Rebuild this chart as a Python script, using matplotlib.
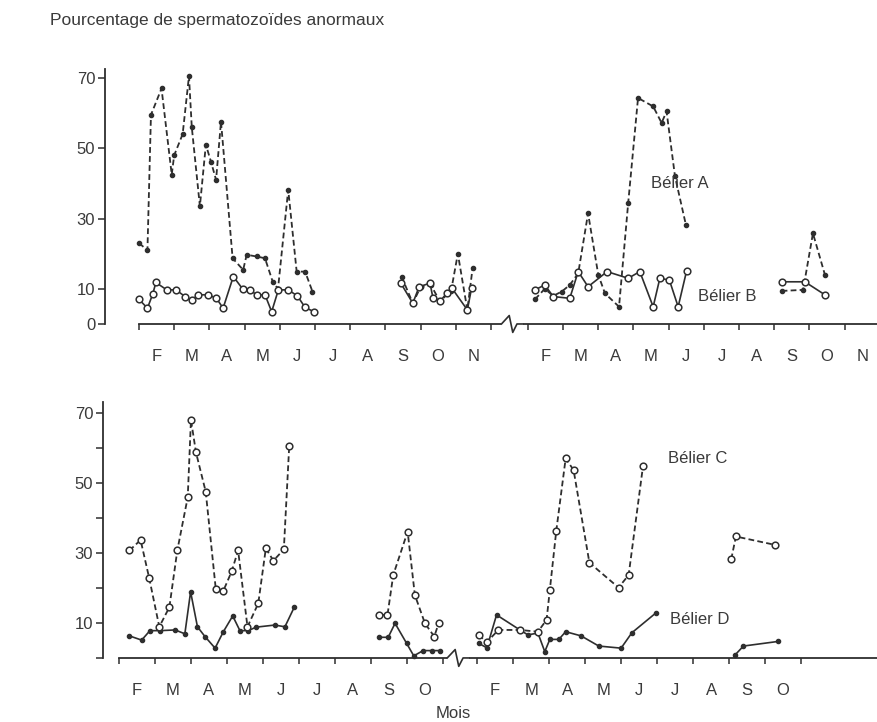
import matplotlib.pyplot as plt
import numpy as np

plt.rcParams['font.family'] = ['Liberation Sans', 'DejaVu Sans']

# mois en valeur décimale : 2.0 = début février, 3.0 = début mars, ...
month_labels_top = ['F', 'M', 'A', 'M', 'J', 'J', 'A', 'S', 'O', 'N']
month_labels_bot = ['F', 'M', 'A', 'M', 'J', 'J', 'A', 'S', 'O']
y_ticks_top = [0, 10, 30, 50, 70]
y_ticks_bot = [10, 30, 50, 70]

# ---- haut : bélier A (tirets) et bélier B (trait plein) ----
a1_m = [2.0, 2.24, 2.34, 2.64, 2.93, 3.0, 3.24, 3.42, 3.5, 3.73, 3.9, 4.05, 4.19,
        4.33, 4.66, 4.96, 5.06, 5.34, 5.58, 5.8, 5.95, 6.24, 6.48, 6.72, 6.93]
a1_v = [23, 21, 59.5, 67, 42.5, 48, 54, 70.5, 56, 33.5, 51, 46, 41,
        57.6, 18.7, 15.4, 19.7, 19.2, 18.7, 12, 10, 38.2, 14.9, 14.9, 9.2]
a1b_m = [9.46, 9.78, 10.0, 10.3, 10.55, 10.87, 11.06, 11.33, 11.48]
a1b_v = [13.5, 5.9, 10.5, 11, 6.4, 9.5, 20, 4, 16]
a2_m = [2.20, 2.48, 2.72, 2.96, 3.19, 3.43, 3.71, 4.0, 4.19, 4.59, 4.85, 5.13,
        5.56, 5.80, 5.94, 6.18, 6.49]
a2_v = [7, 10, 8, 9.2, 11.1, 14.4, 31.5, 14, 8.7, 4.9, 34.4, 64.3,
        61.9, 57.2, 60.5, 42, 28.2]
a2b_m = [9.21, 9.82, 10.1, 10.44]
a2b_v = [9.4, 9.7, 25.8, 14]

b1_m = [2.0, 2.24, 2.39, 2.48, 2.79, 3.05, 3.31, 3.5, 3.68, 3.97, 4.2, 4.39,
        4.68, 4.95, 5.15, 5.34, 5.58, 5.77, 5.96, 6.24, 6.5, 6.72, 6.97]
b1_v = [7, 4.5, 8.5, 11.8, 9.7, 9.7, 7.8, 6.8, 8.3, 8.3, 7.3, 4.5,
        13.5, 9.9, 9.7, 8.3, 8.3, 3.5, 9.7, 9.7, 8, 4.7, 3.5]
b1b_m = [9.44, 9.78, 9.96, 10.27, 10.35, 10.55, 10.74, 10.89, 11.33, 11.45]
b1b_v = [11.6, 5.9, 10.6, 11.6, 7.5, 6.4, 8.7, 10.2, 4, 10.2]
b2_m = [2.20, 2.48, 2.72, 3.19, 3.43, 3.71, 4.25, 4.85, 5.18, 5.56, 5.75, 6.02,
        6.27, 6.51]
b2_v = [9.7, 11.1, 7.8, 7.3, 14.9, 10.6, 14.9, 13, 14.9, 4.9, 13, 12.5, 4.9, 15.1]
b2b_m = [9.21, 9.87, 10.44]
b2b_v = [12, 12, 8.3]

# ---- bas : bélier C (tirets) et bélier D (trait plein) ----
c1_m = [2.29, 2.6, 2.84, 3.12, 3.4, 3.62, 3.91, 4.0, 4.14, 4.41, 4.69, 4.9,
        5.13, 5.31, 5.57, 5.87, 6.08, 6.29, 6.58, 6.73]
c1_v = [30.7, 33.7, 22.8, 8.9, 14.5, 30.7, 45.9, 68, 58.7, 47.5, 19.6, 19.2,
        24.7, 30.7, 8.9, 15.6, 31.3, 27.8, 31, 60.6]
c1b_m = [9.23, 9.46, 9.62, 10.02, 10.22, 10.5, 10.76, 10.88]
c1b_v = [12.3, 12.3, 23.7, 36.1, 18, 9.9, 6.1, 9.9]
c2_m = [2.04, 2.27, 2.59, 3.19, 3.69, 3.93, 4.02, 4.20, 4.46, 4.68, 5.12, 5.93,
        6.21, 6.61]
c2_v = [6.6, 4.5, 8, 8, 7.5, 10.9, 19.4, 36.4, 57, 53.7, 27.2, 20.1, 23.7, 54.9]
c2b_m = [9.06, 9.19, 10.28]
c2b_v = [28.2, 34.7, 32.3]

d1_m = [2.29, 2.63, 2.86, 3.14, 3.56, 3.83, 3.99, 4.18, 4.39, 4.67, 4.9, 5.16,
        5.36, 5.59, 5.81, 6.33, 6.61, 6.87]
d1_v = [6.3, 5.1, 7.8, 7.8, 8, 6.9, 18.9, 8.9, 6.1, 2.8, 7.5, 12,
        7.8, 7.8, 8.8, 9.4, 8.9, 14.5]
d1b_m = [9.23, 9.48, 9.67, 9.99, 10.19, 10.45, 10.69, 10.92]
d1b_v = [5.9, 5.9, 9.9, 4.2, 0.6, 2.1, 2.1, 2.1]
d2_m = [2.04, 2.27, 2.54, 3.19, 3.41, 3.69, 3.88, 4.02, 4.27, 4.46, 4.89, 5.38,
        6.0, 6.30, 6.96]
d2_v = [4.2, 2.9, 12.3, 8, 6.6, 7.1, 1.8, 5.3, 5.3, 7.5, 6.3, 3.4, 2.8, 7.2, 12.8]
d2b_m = [9.17, 9.40, 10.35]
d2b_v = [0.9, 3.4, 4.7]

ink = '#2e2e2e'
txt = '#3a3a3a'
dash = (0, (3.2, 1.8))

fig = plt.figure(figsize=(8.77, 7.22), dpi=100)
ax1 = fig.add_axes([105/877, 1-331/722, 772/877, 265/722])
ax2 = fig.add_axes([103/877, 1-666/722, 774/877, 266/722])

off1 = 11.05   # décalage de la 2e année (haut)
off2 = 9.95    # décalage de la 2e année (bas)


def dotted_series(ax, m, v, off):
    ax.plot(np.asarray(m) + off, v, color=ink, lw=1.3, ls=dash, marker='o',
            ms=3.0, mfc=ink, mec=ink, zorder=3, clip_on=False)


def solid_dots(ax, m, v, off):
    ax.plot(np.asarray(m) + off, v, color=ink, lw=1.2, marker='o',
            ms=3.0, mfc=ink, mec=ink, zorder=3, clip_on=False)


def solid_circles(ax, m, v, off):
    ax.plot(np.asarray(m) + off, v, color=ink, lw=1.2, marker='o',
            ms=4.8, mfc='white', mec=ink, mew=1.1, zorder=4, clip_on=False)


def dashed_circles(ax, m, v, off):
    ax.plot(np.asarray(m) + off, v, color=ink, lw=1.3, ls=dash, marker='o',
            ms=4.8, mfc='white', mec=ink, mew=1.1, zorder=4, clip_on=False)


# haut
for m, v, o in [(a1_m, a1_v, 0), (a1b_m, a1b_v, 0), (a2_m, a2_v, off1), (a2b_m, a2b_v, off1)]:
    dotted_series(ax1, m, v, o)
for m, v, o in [(b1_m, b1_v, 0), (b1b_m, b1b_v, 0), (b2_m, b2_v, off1), (b2b_m, b2b_v, off1)]:
    solid_circles(ax1, m, v, o)

# bas
for m, v, o in [(d1_m, d1_v, 0), (d1b_m, d1b_v, 0), (d2_m, d2_v, off2), (d2b_m, d2b_v, off2)]:
    solid_dots(ax2, m, v, o)
for m, v, o in [(c1_m, c1_v, 0), (c1b_m, c1b_v, 0), (c2_m, c2_v, off2), (c2b_m, c2b_v, off2)]:
    dashed_circles(ax2, m, v, o)


def setup(ax, xlim, ylim, off, n_y1, n_y2, labels, brk, yticks, yminor, ytop):
    ax.set_xlim(*xlim)
    ax.set_ylim(*ylim)
    ax.patch.set_alpha(0)
    for s in ['top', 'right']:
        ax.spines[s].set_visible(False)
    ax.spines['bottom'].set_position(('data', 0))
    ax.spines['bottom'].set_bounds(2, xlim[1])
    ax.spines['left'].set_bounds(0, ytop)
    for s in ['bottom', 'left']:
        ax.spines[s].set_color(ink)
        ax.spines[s].set_linewidth(1.3)

    major = list(range(2, 2 + n_y1)) + [k + off for k in range(2, 2 + n_y2)]
    ax.set_xticks(major)
    ax.set_xticklabels([])
    centers = [k + 0.5 for k in range(2, 2 + len(labels))]
    centers += [c + off for c in centers]
    ax.set_xticks(centers, minor=True)
    ax.set_xticklabels(labels + labels, minor=True)
    ax.tick_params(axis='x', which='major', direction='out', length=4,
                   width=1.1, color=ink)
    ax.tick_params(axis='x', which='minor', length=0, pad=18,
                   labelsize=12, labelcolor=txt)

    ax.set_yticks(yticks)
    ax.set_yticks(yminor, minor=True)
    ax.tick_params(axis='y', which='both', direction='out', length=5,
                   width=1.1, color=ink, pad=2, labelsize=12, labelcolor=txt)

    # coupure de l'axe des abscisses
    ax.plot([brk - 0.3, brk + 0.3], [0, 0], color='white', lw=3,
            zorder=5, clip_on=False, solid_capstyle='butt')
    ax.plot([brk - 0.3, brk - 0.08, brk + 0.02, brk + 0.14, brk + 0.3],
            [0, 2.4, -2.4, 0, 0], color=ink, lw=1.2, zorder=6, clip_on=False)


setup(ax1, (1.034, 22.97), (-2.0, 73.4), off1, 11, 10, month_labels_top,
      12.6, y_ticks_top, [], 72.5)
setup(ax2, (1.556, 23.06), (-2.3, 73.7), off2, 10, 10, month_labels_bot,
      11.42, y_ticks_bot + [0], [20, 40, 60], 73)
ax2.set_yticklabels([str(t) for t in y_ticks_bot] + [''])

ax1.text(16.55, 40.1, 'Bélier A', fontsize=12, color=txt, va='center')
ax1.text(17.88, 7.7, 'Bélier B', fontsize=12, color=txt, va='center')
ax2.text(17.25, 56.9, 'Bélier C', fontsize=12, color=txt, va='center')
ax2.text(17.3, 10.9, 'Bélier D', fontsize=12, color=txt, va='center')

fig.text(50/877, 1 - 20/722, 'Pourcentage de spermatozoïdes anormaux',
         fontsize=12.5, color=txt, ha='left', va='center')
fig.text(453/877, 1 - 713/722, 'Mois', fontsize=12, color=txt,
         ha='center', va='center')

fig.savefig('out.png', dpi=100)
